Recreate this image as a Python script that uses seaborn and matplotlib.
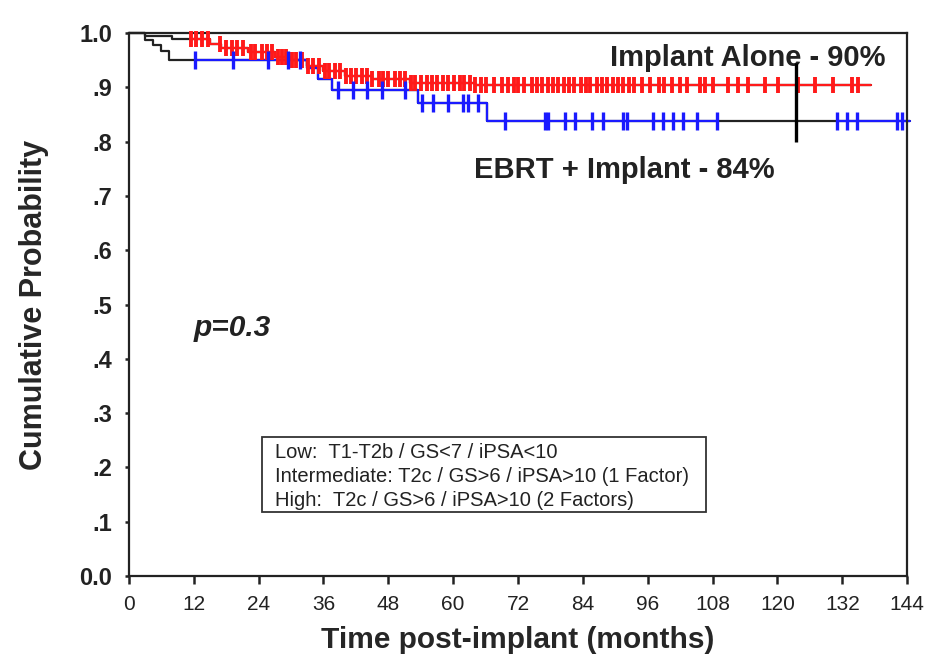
import matplotlib
matplotlib.use("Agg")
import matplotlib.pyplot as plt
import numpy as np
import pandas as pd
import seaborn as sns
from matplotlib.patches import Rectangle

# Kaplan-Meier steps (months, survival)
alone_times = [0, 3, 8, 15, 17, 22, 27, 30, 33, 36, 40, 45, 52, 64]
alone_surv = [1.0, 0.995, 0.99, 0.98, 0.972, 0.965, 0.957, 0.95, 0.94, 0.93, 0.922, 0.915, 0.908, 0.904]
alone_end = 137.3

ebrt_times = [0, 3, 4.5, 6, 7.5, 33, 35, 37.5, 53.4, 66.3]
ebrt_surv = [1.0, 0.988, 0.978, 0.968, 0.95, 0.935, 0.915, 0.895, 0.871, 0.838]
ebrt_end = 144.5

# censored observations (months)
alone_censor = [
    11.5, 12.5, 13.5, 14.6, 16.8, 18.0, 19.1, 20.0, 21.2, 22.5, 23.4, 24.6, 25.5, 26.4,
    27.6, 28.3, 29.1, 30.2, 31.0, 32.1, 33.2, 34.0, 35.1, 36.2, 37.0, 38.1, 39.0, 40.2,
    41.1, 42.0, 43.2, 44.1, 45.0, 46.2, 47.1, 48.0, 49.2, 50.1, 51.0, 52.2, 53.0, 54.1,
    55.2, 56.0, 57.1, 58.2, 59.0, 60.1, 61.2, 62.0, 63.1, 64.0, 65.2, 66.1, 67.5, 69.0,
    70.1, 71.2, 72.0, 73.1, 74.5, 75.5, 76.4, 77.6, 78.5, 79.4, 80.6, 81.5, 82.4, 83.6,
    84.5, 85.4, 86.6, 87.5, 88.4, 89.6, 90.5, 91.4, 92.6, 93.5, 95.0, 96.5, 98.0, 99.1,
    100.5, 102.0, 103.3, 105.7, 106.6, 108.1, 110.9, 112.7, 114.6, 117.7, 120.1, 123.8,
    127.0, 130.3, 133.8, 134.9,
]
ebrt_censor = [
    12.2, 19.2, 25.7, 29.4, 31.6, 38.7, 41.5, 44.1, 46.8, 51.1, 54.2, 56.3, 59.0, 61.8,
    62.7, 64.6, 69.6, 77.0, 77.5, 80.7, 82.5, 85.7, 87.7, 91.4, 92.2, 97.0, 98.8, 100.7,
    102.5, 105.1, 108.8, 131.0, 132.9, 134.8, 142.1, 143.1,
]

x_ticks = [0, 12, 24, 36, 48, 60, 72, 84, 96, 108, 120, 132, 144]
y_ticks = [0.0, 0.1, 0.2, 0.3, 0.4, 0.5, 0.6, 0.7, 0.8, 0.9, 1.0]
y_ticklabels = ["0.0", ".1", ".2", ".3", ".4", ".5", ".6", ".7", ".8", ".9", "1.0"]

legend_lines = [
    "Low:  T1-T2b / GS<7 / iPSA<10",
    "Intermediate: T2c / GS>6 / iPSA>10 (1 Factor)",
    "High:  T2c / GS>6 / iPSA>10 (2 Factors)",
]


def step_frame(times, surv, end):
    t = list(times) + [end]
    s = list(surv) + [surv[-1]]
    return pd.DataFrame({"t": t, "s": s})


def surv_at(times, surv, t):
    idx = np.searchsorted(times, t, side="right") - 1
    return np.asarray(surv)[idx]


def colored_spans(censor, end, gap=15):
    # coloured line runs through clusters of censor marks, black shows in long gaps
    spans = []
    start = censor[0]
    prev = censor[0]
    for c in censor[1:]:
        if c - prev > gap:
            spans.append((start, prev))
            start = c
        prev = c
    spans.append((start, max(prev, end)))
    return spans


sns.set_theme(style="ticks")
plt.rcParams["font.family"] = ["Liberation Sans", "DejaVu Sans"]

fig = plt.figure(figsize=(9.41, 6.64), dpi=100)
ax = fig.add_axes([0.137, 0.1325, 0.827, 0.8175])

groups = [
    (alone_times, alone_surv, alone_end, alone_censor, "#ff1a1a", 12, 2.8),
    (ebrt_times, ebrt_surv, ebrt_end, ebrt_censor, "#1a1aff", 13, 2.4),
]

for times, surv, end, censor, color, msize, mlw in groups:
    df = step_frame(times, surv, end)
    sns.lineplot(data=df, x="t", y="s", ax=ax, color="#222222", lw=1.6,
                 drawstyle="steps-post", estimator=None, sort=False, clip_on=False)
    for a, b in colored_spans(censor, end):
        seg = df[(df["t"] >= a) & (df["t"] <= b)]
        seg_t = [a] + list(seg["t"]) + [b]
        seg_s = [surv_at(times, surv, a)] + list(seg["s"]) + [surv_at(times, surv, b)]
        sdf = pd.DataFrame({"t": seg_t, "s": seg_s})
        sns.lineplot(data=sdf, x="t", y="s", ax=ax, color=color, lw=1.6,
                     drawstyle="steps-post", estimator=None, sort=False, clip_on=False)
    cdf = pd.DataFrame({"t": censor, "s": surv_at(times, surv, censor)})
    sns.scatterplot(data=cdf, x="t", y="s", ax=ax, marker="|", color=color,
                    s=msize ** 2, linewidth=mlw, clip_on=False, zorder=4)

ax.vlines(123.4, 0.80, 0.945, color="black", lw=2.4, zorder=5)

ax.set_xlim(0, 144)
ax.set_ylim(0, 1)
ax.set_xticks(x_ticks)
ax.set_xticklabels([str(v) for v in x_ticks], fontsize=15)
ax.set_yticks(y_ticks)
ax.set_yticklabels(y_ticklabels, fontsize=17, fontweight="bold")
ax.tick_params(axis="x", direction="out", length=6, width=1.8, pad=8, colors="#222222")
ax.tick_params(axis="y", direction="out", length=3, width=1.8, pad=9, colors="#222222")
for sp in ax.spines.values():
    sp.set_linewidth(1.6)
    sp.set_color("#222222")

ax.set_xlabel("Time post-implant (months)", fontsize=21.5, fontweight="bold", labelpad=8)
ax.set_ylabel("Cumulative Probability", fontsize=22, fontweight="bold", labelpad=22)

ax.text(140, 0.954, "Implant Alone - 90%", ha="right", va="center",
        fontsize=21, fontweight="bold", color="#222222")
ax.text(63.8, 0.748, "EBRT + Implant - 84%", ha="left", va="center",
        fontsize=21, fontweight="bold", color="#222222")
ax.text(12.0, 0.457, "p=0.3", ha="left", va="center", fontsize=21.5,
        fontweight="bold", fontstyle="italic", color="#222222")

ax.add_patch(Rectangle((0.171, 0.118), 0.571, 0.138, transform=ax.transAxes,
                       fill=False, edgecolor="#333333", lw=1.3))
for i, line in enumerate(legend_lines):
    ax.text(0.188, 0.228 - i * 0.044, line, transform=ax.transAxes,
            ha="left", va="center", fontsize=14.5, color="#222222")

fig.savefig("out.png", dpi=100)
